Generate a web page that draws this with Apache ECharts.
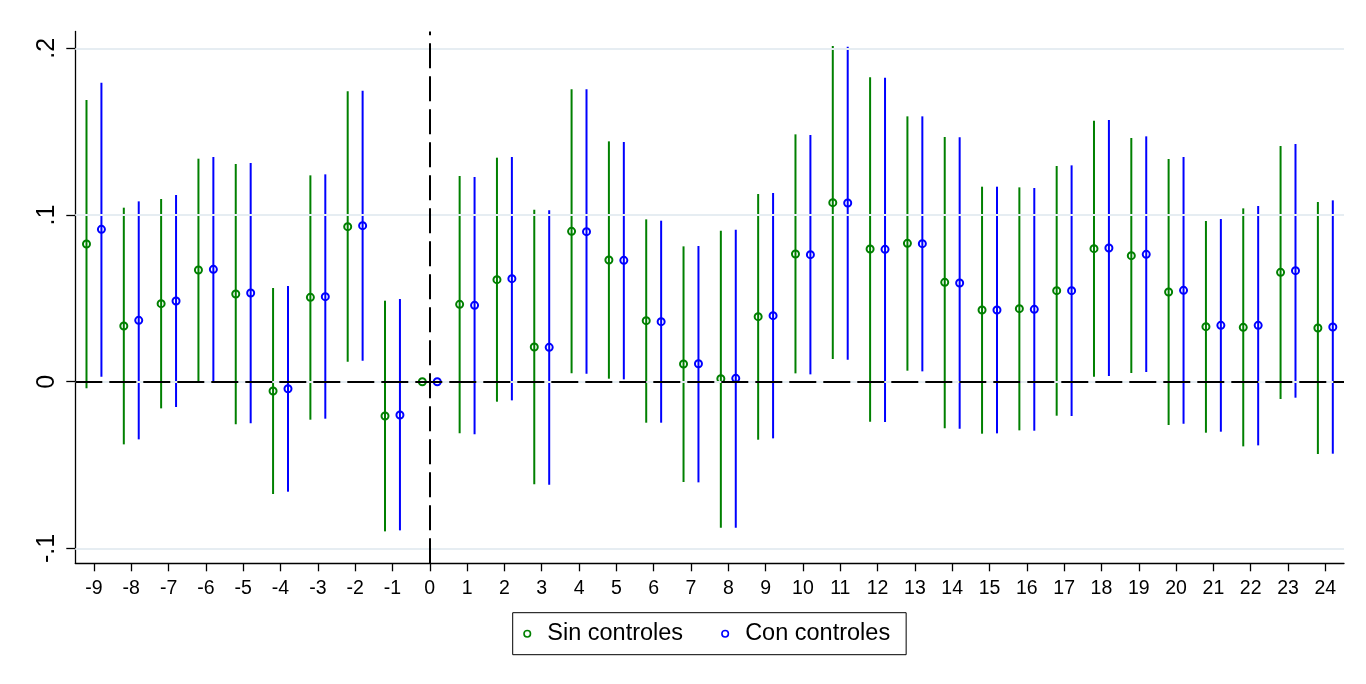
<!DOCTYPE html>
<html>
<head>
<meta charset="utf-8">
<script src="https://cdn.jsdelivr.net/npm/echarts@6/dist/echarts.min.js"></script>
<style>
html,body{margin:0;padding:0;background:#fff;}
#chart{width:1366px;height:684px;}
</style>
</head>
<body>
<div id="chart"></div>
<script>
const periods = [-9,-8,-7,-6,-5,-4,-3,-2,-1,0,1,2,3,4,5,6,7,8,9,10,11,12,13,14,15,16,17,18,19,20,21,22,23,24];

const sinCoef = [0.0826,0.0334,0.0468,0.067,0.0526,-0.0056,0.0506,0.093,-0.0206,0,0.0464,0.0612,0.0208,0.0902,0.073,0.0366,0.0106,0.0018,0.039,0.0766,0.1074,0.0796,0.083,0.0596,0.043,0.0438,0.0546,0.0798,0.0756,0.0538,0.033,0.0326,0.0656,0.0322];
const sinLo = [-0.004,-0.0376,-0.016,0.0004,-0.0256,-0.0674,-0.0228,0.012,-0.0898,null,-0.031,-0.012,-0.0616,0.005,0.0018,-0.0246,-0.0602,-0.0876,-0.0348,0.005,0.0136,-0.024,0.0066,-0.028,-0.0312,-0.0292,-0.0204,0.003,0.0052,-0.026,-0.0306,-0.0388,-0.0104,-0.0434];
const sinHi = [0.169,0.1044,0.1096,0.1338,0.1306,0.0562,0.1238,0.1742,0.0486,null,0.1234,0.1344,0.1032,0.1754,0.1442,0.0974,0.0812,0.0906,0.1126,0.1484,0.2014,0.1826,0.1592,0.1468,0.117,0.1166,0.1294,0.1566,0.1462,0.1336,0.0964,0.104,0.1414,0.1078];

const conCoef = [0.0914,0.0368,0.0484,0.0674,0.0532,-0.0042,0.051,0.0936,-0.02,0,0.0458,0.0618,0.0206,0.09,0.0728,0.036,0.0108,0.002,0.0396,0.0762,0.1072,0.0794,0.0828,0.0592,0.043,0.0434,0.0546,0.0802,0.0764,0.0548,0.0338,0.0338,0.0666,0.0328];
const conLo = [0.003,-0.0346,-0.0152,0.0004,-0.025,-0.066,-0.0222,0.0126,-0.0892,null,-0.0316,-0.0112,-0.0618,0.0048,0.0014,-0.0246,-0.0604,-0.0876,-0.034,0.0044,0.0132,-0.0242,0.0062,-0.0282,-0.031,-0.0294,-0.0206,0.0034,0.0058,-0.0252,-0.03,-0.0382,-0.0096,-0.0432];
const conHi = [0.1794,0.1082,0.112,0.1348,0.1312,0.0574,0.1244,0.1746,0.0496,null,0.1228,0.1348,0.1028,0.1754,0.1438,0.0966,0.0814,0.0912,0.1132,0.148,0.201,0.1824,0.1592,0.1466,0.117,0.1162,0.1298,0.157,0.1472,0.1348,0.0976,0.1054,0.1426,0.1088];

const yTickValues = [-0.1, 0, 0.1, 0.2];
const yTickLabels = ['-.1', '0', '.1', '.2'];

const seriesNames = ['Sin controles', 'Con controles'];
const GREEN = '#008000';
const BLUE = '#0000ff';
const FONT = 'Liberation Sans, Arial, Helvetica, sans-serif';

function rows(coef, lo, hi) {
  return periods.map((p, i) => [p, coef[i], lo[i], hi[i]]);
}

function makeRender(color, shift) {
  return function (params, api) {
    const x = api.value(0);
    const c = api.value(1);
    const lo = api.value(2);
    const hi = api.value(3);
    const band = api.size([1, 0])[0];
    const off = shift * band;
    const children = [];
    if (lo != null && hi != null && !isNaN(lo) && !isNaN(hi)) {
      const a = api.coord([x, lo]);
      const b = api.coord([x, hi]);
      children.push({
        type: 'line',
        shape: { x1: a[0] + off, y1: a[1], x2: b[0] + off, y2: b[1] },
        style: { stroke: color, lineWidth: 2 }
      });
    }
    const p = api.coord([x, c]);
    children.push({
      type: 'circle',
      shape: { cx: p[0] + off, cy: p[1], r: 3.5 },
      style: { stroke: color, lineWidth: 2, fill: 'rgba(0,0,0,0)' }
    });
    return { type: 'group', children: children };
  };
}

const chart = echarts.init(document.getElementById('chart'), null, { renderer: 'canvas' });

chart.setOption({
  animation: false,
  backgroundColor: '#ffffff',
  grid: { left: 75.3, right: 22, top: 31.5, bottom: 120.7, containLabel: false },
  xAxis: {
    type: 'value',
    min: -9.5,
    max: 24.5,
    splitLine: { show: false },
    axisLine: { show: true, onZero: false, lineStyle: { color: '#000', width: 1.3 } },
    axisTick: { show: true, length: 8, customValues: periods, lineStyle: { color: '#000', width: 1.3 } },
    axisLabel: {
      customValues: periods,
      margin: 15,
      color: '#000',
      fontSize: 19.5,
      fontFamily: FONT,
      formatter: v => String(v)
    }
  },
  yAxis: {
    type: 'value',
    min: -0.10896,
    max: 0.21011,
    splitLine: { show: false },
    axisLine: { show: true, onZero: false, lineStyle: { color: '#000', width: 1.3 } },
    axisTick: { show: true, length: 9, customValues: yTickValues, lineStyle: { color: '#000', width: 1.3 } },
    axisLabel: {
      customValues: yTickValues,
      rotate: 90,
      margin: 15.5,
      color: '#000',
      fontSize: 25,
      fontFamily: FONT,
      formatter: v => {
        const i = yTickValues.findIndex(t => Math.abs(t - v) < 1e-9);
        return i >= 0 ? yTickLabels[i] : '';
      }
    }
  },
  legend: {
    left: 512.7,
    top: 612.7,
    orient: 'horizontal',
    padding: [9, 16, 9, 10.5],
    borderColor: '#000',
    borderWidth: 1,
    itemWidth: 30,
    itemHeight: 6.5,
    itemGap: 38,
    textStyle: { color: '#000', fontSize: 23.5, fontFamily: FONT },
    data: [
      { name: seriesNames[0], icon: 'circle', itemStyle: { color: 'rgba(0,0,0,0)', borderColor: GREEN, borderWidth: 1.6 } },
      { name: seriesNames[1], icon: 'circle', itemStyle: { color: 'rgba(0,0,0,0)', borderColor: BLUE, borderWidth: 1.6 } }
    ]
  },
  series: [
    {
      type: 'line',
      name: 'grid',
      data: [],
      silent: true,
      z: 1,
      markLine: {
        silent: true,
        symbol: 'none',
        label: { show: false },
        lineStyle: { color: '#e6edf2', width: 1.8, type: 'solid' },
        data: yTickValues.map(v => ({ yAxis: v }))
      }
    },
    {
      type: 'line',
      name: 'ref',
      data: [],
      silent: true,
      z: 2,
      markLine: {
        silent: true,
        symbol: 'none',
        label: { show: false },
        data: [
          { yAxis: 0, lineStyle: { color: '#000', width: 2, type: [27, 7] } },
          { xAxis: 0, lineStyle: { color: '#000', width: 2, type: [25, 8] } }
        ]
      }
    },
    {
      type: 'custom',
      name: seriesNames[0],
      z: 3,
      itemStyle: { color: GREEN },
      encode: { x: 0, y: 1 },
      data: rows(sinCoef, sinLo, sinHi),
      renderItem: makeRender(GREEN, -0.2)
    },
    {
      type: 'custom',
      name: seriesNames[1],
      z: 4,
      itemStyle: { color: BLUE },
      encode: { x: 0, y: 1 },
      data: rows(conCoef, conLo, conHi),
      renderItem: makeRender(BLUE, 0.2)
    }
  ]
});
</script>
</body>
</html>
